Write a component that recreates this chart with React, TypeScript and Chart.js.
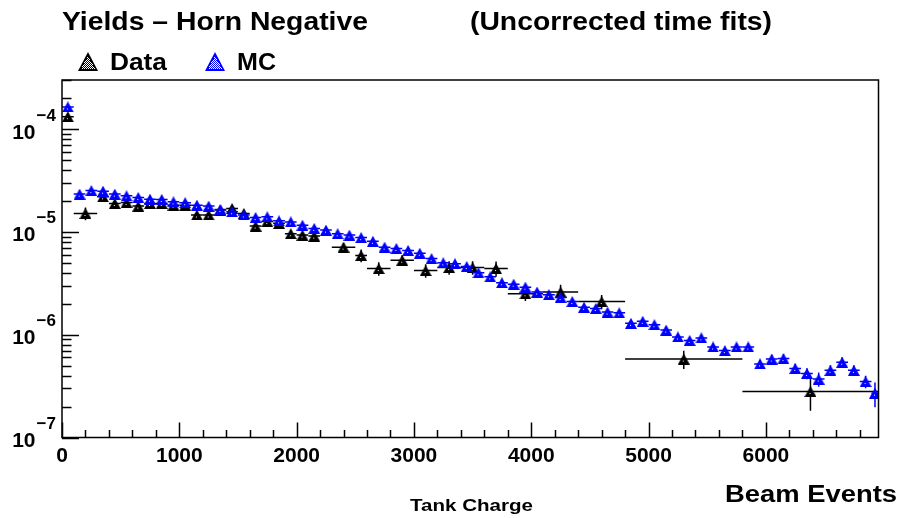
import React, { useEffect, useRef } from "react";
import { Chart, registerables } from "chart.js";
Chart.register(...registerables);

const FONT = '"Liberation Sans", Arial, Helvetica, sans-serif';

// ---------------- values ----------------
const mcX = [50, 150, 250, 350, 450, 550, 650, 750, 850, 950, 1050, 1150, 1250, 1350, 1450, 1550, 1650, 1750, 1850, 1950,
  2050, 2150, 2250, 2350, 2450, 2550, 2650, 2750, 2850, 2950, 3050, 3150, 3250, 3350, 3450, 3550, 3650, 3750, 3850, 3950,
  4050, 4150, 4250, 4350, 4450, 4550, 4650, 4750, 4850, 4950, 5050, 5150, 5250, 5350, 5450, 5550, 5650, 5750, 5850, 5950,
  6050, 6150, 6250, 6350, 6450, 6550, 6650, 6750, 6850, 6930];
const mcY = [1.64e-4, 2.33e-5, 2.52e-5, 2.49e-5, 2.33e-5, 2.24e-5, 2.16e-5, 2.08e-5, 2.07e-5, 1.96e-5,
  1.92e-5, 1.82e-5, 1.78e-5, 1.65e-5, 1.57e-5, 1.46e-5, 1.38e-5, 1.40e-5, 1.28e-5, 1.25e-5,
  1.16e-5, 1.08e-5, 1.04e-5, 9.6e-6, 9.3e-6, 8.8e-6, 8.1e-6, 7.1e-6, 6.9e-6, 6.6e-6,
  6.2e-6, 5.5e-6, 5.0e-6, 4.9e-6, 4.6e-6, 4.0e-6, 3.65e-6, 3.2e-6, 3.1e-6, 2.9e-6,
  2.6e-6, 2.45e-6, 2.3e-6, 2.1e-6, 1.85e-6, 1.8e-6, 1.66e-6, 1.63e-6, 1.29e-6, 1.35e-6,
  1.25e-6, 1.11e-6, 9.5e-7, 8.8e-7, 9.3e-7, 7.6e-7, 7.0e-7, 7.6e-7, 7.6e-7, 5.2e-7,
  5.8e-7, 5.85e-7, 4.7e-7, 4.2e-7, 3.7e-7, 4.5e-7, 5.4e-7, 4.5e-7, 3.5e-7, 2.7e-7];
const mcXErr = [50, 50, 50, 50, 50, 50, 50, 50, 50, 50, 50, 50, 50, 50, 50, 50, 50, 50, 50, 50,
  50, 50, 50, 50, 50, 50, 50, 50, 50, 50, 50, 50, 50, 50, 50, 50, 50, 50, 50, 50,
  50, 50, 50, 50, 50, 50, 50, 50, 50, 50, 50, 50, 50, 50, 50, 50, 50, 50, 50, 50,
  50, 50, 50, 50, 50, 50, 50, 50, 50, 30];
const mcRelErr = [0.02, 0.03, 0.03, 0.03, 0.03, 0.03, 0.03, 0.03, 0.03, 0.03, 0.03, 0.03, 0.03, 0.03, 0.03, 0.03, 0.03, 0.03, 0.03, 0.03,
  0.03, 0.03, 0.03, 0.03, 0.03, 0.03, 0.04, 0.04, 0.04, 0.04, 0.04, 0.04, 0.04, 0.04, 0.04, 0.05, 0.05, 0.05, 0.05, 0.05,
  0.05, 0.05, 0.05, 0.05, 0.06, 0.06, 0.06, 0.06, 0.06, 0.06, 0.07, 0.07, 0.07, 0.08, 0.08, 0.08, 0.08, 0.08, 0.09, 0.1,
  0.1, 0.1, 0.11, 0.12, 0.16, 0.12, 0.12, 0.12, 0.14, 0.27];

const dataX = [50, 200, 350, 450, 550, 650, 750, 850, 950, 1050, 1150, 1250, 1350, 1450, 1550, 1650, 1750, 1850, 1950, 2050,
  2150, 2400, 2550, 2700, 2900, 3100, 3300, 3500, 3700, 3950, 4250, 4600, 5300, 6380];
const dataXErr = [50, 100, 50, 50, 50, 50, 50, 50, 50, 50, 50, 50, 50, 50, 50, 50, 50, 50, 50, 50,
  50, 100, 50, 100, 100, 100, 100, 100, 100, 150, 150, 200, 500, 580];
const dataY = [1.32e-4, 1.51e-5, 2.19e-5, 1.89e-5, 1.93e-5, 1.78e-5, 1.89e-5, 1.89e-5, 1.82e-5, 1.82e-5,
  1.46e-5, 1.46e-5, 1.63e-5, 1.69e-5, 1.51e-5, 1.14e-5, 1.26e-5, 1.21e-5, 9.6e-6, 9.3e-6,
  9.1e-6, 7.1e-6, 5.9e-6, 4.4e-6, 5.3e-6, 4.2e-6, 4.5e-6, 4.5e-6, 4.4e-6, 2.5e-6,
  2.6e-6, 2.1e-6, 5.8e-7, 2.8e-7];
const dataRelErr = [0.03, 0.14, 0.06, 0.06, 0.06, 0.06, 0.06, 0.06, 0.06, 0.06, 0.06, 0.06, 0.06, 0.06, 0.07, 0.08, 0.08, 0.08, 0.08, 0.08,
  0.09, 0.1, 0.14, 0.15, 0.12, 0.15, 0.15, 0.15, 0.17, 0.15, 0.18, 0.16, 0.2, 0.35];

const xTickValues = [0, 1000, 2000, 3000, 4000, 5000, 6000];
const xTickLabels = ["0", "1000", "2000", "3000", "4000", "5000", "6000"];
const yTickExponents = [-7, -6, -5, -4];
const yTickLabels = ["\u22127", "\u22126", "\u22125", "\u22124"];

const X_MIN = 0;
const X_MAX = 6960;
const Y_MIN = 1e-7;
const Y_MAX = 3e-4;

function makeMarker(color: string, w: number, h: number, dense: boolean): HTMLCanvasElement {
  const c = document.createElement("canvas");
  c.width = w;
  c.height = h;
  const g = c.getContext("2d")!;
  g.fillStyle = color;
  g.beginPath();
  g.moveTo(w / 2, 0);
  g.lineTo(w, h);
  g.lineTo(0, h);
  g.closePath();
  g.fill();
  g.fillStyle = "#ffffff";
  if (dense) {
    for (let yy = 3; yy < h - 2; yy++) {
      const half = ((yy + 0.5) / h) * (w / 2);
      for (let xx = 0; xx < w; xx++) {
        if ((xx + yy) % 2) continue;
        if (Math.abs(xx + 0.5 - w / 2) < half - 2) g.fillRect(xx, yy, 1, 1);
      }
    }
  } else {
    const rows = [Math.round(h * 0.62)];
    rows.forEach((yy) => {
      const half = ((yy + 0.5) / h) * (w / 2);
      for (let xx = 2; xx < w; xx += 3) {
        if (Math.abs(xx + 0.5 - w / 2) < half - 2) g.fillRect(xx, yy, 1, 1);
      }
    });
  }
  return c;
}

function fitText(ctx: CanvasRenderingContext2D, s: string, x: number, y: number, size: number, width: number | null, align: "left" | "center" | "right" = "left") {
  ctx.save();
  ctx.font = `bold ${size}px ${FONT}`;
  ctx.textBaseline = "alphabetic";
  ctx.textAlign = "left";
  const w0 = ctx.measureText(s).width;
  const sx = width ? width / w0 : 1;
  const w = w0 * sx;
  let x0 = x;
  if (align === "center") x0 = x - w / 2;
  if (align === "right") x0 = x - w;
  ctx.translate(x0, y);
  ctx.scale(sx, 1);
  ctx.fillText(s, 0, 0);
  ctx.restore();
}

export default function App() {
  const ref = useRef<HTMLCanvasElement>(null);

  useEffect(() => {
    document.body.style.margin = "0";
    const canvas = ref.current!;
    const dataMark = makeMarker("#000000", 12, 11, false);
    const mcMark = makeMarker("#0000ff", 12, 11, false);
    const dataLeg = makeMarker("#000000", 20, 19, true);
    const mcLeg = makeMarker("#0000ff", 20, 19, true);

    const mcPoints = mcX.map((x, i) => ({ x, y: mcY[i], xe: mcXErr[i], e: mcRelErr[i] }));
    const dataPoints = dataX.map((x, i) => ({ x, y: dataY[i], xe: dataXErr[i], e: dataRelErr[i] }));

    const errPlugin = {
      id: "errbars",
      beforeDatasetDraw(chart: any, args: any) {
        const ds = chart.data.datasets[args.index];
        const xs = chart.scales.x;
        const ys = chart.scales.y;
        const a = chart.chartArea;
        const ctx: CanvasRenderingContext2D = chart.ctx;
        ctx.save();
        ctx.beginPath();
        ctx.rect(a.left, a.top, a.right - a.left, a.bottom - a.top);
        ctx.clip();
        ctx.strokeStyle = ds.errColor;
        ctx.lineWidth = 1.5;
        ds.data.forEach((p: any) => {
          const px = xs.getPixelForValue(p.x);
          const py = ys.getPixelForValue(p.y);
          const x0 = xs.getPixelForValue(p.x - p.xe);
          const x1 = xs.getPixelForValue(p.x + p.xe);
          const y0 = ys.getPixelForValue(p.y * (1 + p.e));
          const y1 = ys.getPixelForValue(p.y * (1 - p.e));
          ctx.beginPath();
          ctx.moveTo(x0, py);
          ctx.lineTo(x1, py);
          ctx.moveTo(px, y0);
          ctx.lineTo(px, y1);
          ctx.stroke();
        });
        ctx.restore();
      },
    };

    const axesPlugin = {
      id: "rootaxes",
      afterDraw(chart: any) {
        const ctx: CanvasRenderingContext2D = chart.ctx;
        const a = chart.chartArea;
        const xs = chart.scales.x;
        const ys = chart.scales.y;
        ctx.save();
        ctx.strokeStyle = "#000";
        ctx.lineWidth = 1.5;
        ctx.strokeRect(a.left, a.top, a.right - a.left, a.bottom - a.top);
        ctx.beginPath();
        for (let v = X_MIN; v <= X_MAX; v += 200) {
          const px = Math.round(xs.getPixelForValue(v)) + 0.5;
          const len = v % 1000 === 0 ? 15 : 7.5;
          ctx.moveTo(px, a.bottom);
          ctx.lineTo(px, a.bottom - len);
        }
        for (let e = -7; e <= -4; e++) {
          for (let m = 1; m <= 9; m++) {
            const v = m * Math.pow(10, e);
            if (v > Y_MAX * 1.0001) break;
            const py = Math.round(ys.getPixelForValue(v)) + 0.5;
            const len = m === 1 ? 17 : 9.5;
            ctx.moveTo(a.left, py);
            ctx.lineTo(a.left + len, py);
          }
        }
        ctx.stroke();

        ctx.fillStyle = "#000";
        xTickValues.forEach((v, i) => {
          fitText(ctx, xTickLabels[i], xs.getPixelForValue(v), a.bottom + 24.5, 21, null, "center");
        });
        yTickExponents.forEach((ex, i) => {
          const py = ys.getPixelForValue(Math.pow(10, ex));
          fitText(ctx, "10", 35.5, py + 9.5, 21, null, "right");
          fitText(ctx, yTickLabels[i], 36.5, py - 8.5, 17, null, "left");
        });

        // titles
        fitText(ctx, "Yields \u2013 Horn Negative", 62, 30, 26, 306, "left");
        fitText(ctx, "(Uncorrected time fits)", 470, 30, 26, 302, "left");
        // legend
        ctx.drawImage(dataLeg, 78, 52);
        fitText(ctx, "Data", 110, 70, 23, 57, "left");
        ctx.drawImage(mcLeg, 205, 52);
        fitText(ctx, "MC", 237, 70, 23, 39, "left");
        // axis titles
        fitText(ctx, "Tank Charge", 410, 511, 17, 123, "left");
        fitText(ctx, "Beam Events", 725, 502, 23, 172, "left");
        ctx.restore();
      },
    };

    const chart = new Chart(canvas, {
      type: "scatter",
      data: {
        datasets: [
          {
            label: "MC",
            data: mcPoints,
            order: 0,
            pointStyle: mcMark,
            pointRadius: 5,
            errColor: "#0000ff",
          } as any,
          {
            label: "Data",
            data: dataPoints,
            order: 1,
            pointStyle: dataMark,
            pointRadius: 5,
            errColor: "#000000",
          } as any,
        ],
      },
      options: {
        responsive: false,
        animation: false,
        events: [],
        layout: { padding: { left: 62, right: 22.5, top: 80, bottom: 80.5 } },
        plugins: {
          legend: { display: false },
          tooltip: { enabled: false },
          title: { display: false },
        },
        scales: {
          x: { type: "linear", min: X_MIN, max: X_MAX, display: false },
          y: { type: "logarithmic", min: Y_MIN, max: Y_MAX, display: false },
        },
      },
      plugins: [errPlugin, axesPlugin],
    });
    return () => chart.destroy();
  }, []);

  return (
    <div style={{ position: "absolute", left: 0, top: 0, width: 901, height: 518, background: "#fff" }}>
      <canvas ref={ref} width={901} height={518} style={{ display: "block", width: 901, height: 518 }} />
    </div>
  );
}
